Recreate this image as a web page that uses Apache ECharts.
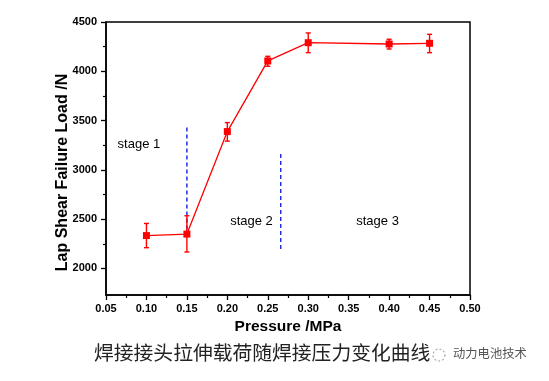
<!DOCTYPE html>
<html>
<head>
<meta charset="utf-8">
<script src="https://cdn.jsdelivr.net/npm/echarts@6/dist/echarts.min.js"></script>
<style>
html,body{margin:0;padding:0;background:#fff;}
#c{width:549px;height:381px;}
</style>
</head>
<body>
<div id="c"></div>
<script>
// ---- data ----
const pressure = [0.10, 0.15, 0.20, 0.25, 0.30, 0.40, 0.45];
const load = [2333, 2348, 3388, 4105, 4290, 4277, 4284];
const loadErrTop = [2456, 2534, 3479, 4152, 4389, 4325, 4375];
const loadErrBottom = [2210, 2166, 3291, 4051, 4189, 4226, 4189];
const yTickLabels = [2000, 2500, 3000, 3500, 4000, 4500];
const yMinorTicks = [2250, 2750, 3250, 3750, 4250];
const stageLineX = [0.15, 0.266];
const stageLineTop = [3430, 3160];
const stageLineBottom = [2350, 2180];
const stageNames = ['stage 1', 'stage 2', 'stage 3'];
const stageX = [0.0907, 0.2299, 0.3857];
const stageY = [3253, 2476, 2476];
const caption = '焊接接头拉伸载荷随焊接压力变化曲线';
const watermark = '动力电池技术';

const chart = echarts.init(document.getElementById('c'), null, {renderer: 'canvas'});
const FONT = '"Liberation Sans", Arial, sans-serif';

const errData = pressure.map((x, i) => [x, loadErrBottom[i], loadErrTop[i]]);

const stageLineSeries = stageLineX.map((x, i) => ({
  type: 'line',
  data: [[x, stageLineTop[i]], [x, stageLineBottom[i]]],
  symbol: 'none',
  silent: true,
  z: 1,
  lineStyle: {color: '#1f2fe8', width: 1.5, type: [4, 3]}
}));

const option = {
  backgroundColor: '#fff',
  animation: false,
  grid: {left: 106, right: 79, top: 22, bottom: 86, show: true, borderColor: '#000', borderWidth: 1.5, backgroundColor: 'transparent'},
  xAxis: {
    type: 'value', min: 0.05, max: 0.5, interval: 0.05,
    name: 'Pressure /MPa', nameLocation: 'middle', nameGap: 20,
    nameTextStyle: {fontFamily: FONT, fontWeight: 'bold', fontSize: 15.5, color: '#000'},
    axisLine: {show: true, lineStyle: {color: '#000', width: 1.5}},
    axisTick: {show: true, inside: false, length: 5, lineStyle: {color: '#000', width: 1.3}},
    minorTick: {show: true, splitNumber: 2, length: 3, lineStyle: {color: '#000', width: 1.2}},
    axisLabel: {margin: 8, fontFamily: FONT, fontWeight: 'bold', fontSize: 11, color: '#000',
      formatter: v => v.toFixed(2)},
    splitLine: {show: false}
  },
  yAxis: [{
    type: 'value', min: 1730, max: 4500,
    name: 'Lap Shear Failure Load /N', nameLocation: 'middle', nameGap: 35,
    nameMoveOverlap: false,
    nameTextStyle: {fontFamily: FONT, fontWeight: 'bold', fontSize: 16, color: '#000', padding: [0, 28, 0, 0]},
    axisLine: {show: true, lineStyle: {color: '#000', width: 1.5}},
    axisTick: {show: true, inside: false, length: 5, customValues: yTickLabels, lineStyle: {color: '#000', width: 1.3}},
    axisLabel: {margin: 9, customValues: yTickLabels, fontFamily: FONT, fontWeight: 'bold', fontSize: 11, color: '#000',
      formatter: v => String(v)},
    splitLine: {show: false}
  }, {
    type: 'value', min: 1730, max: 4500, position: 'left',
    axisLine: {show: false},
    axisTick: {show: true, inside: false, length: 3, customValues: yMinorTicks, lineStyle: {color: '#000', width: 1.2}},
    axisLabel: {show: false},
    splitLine: {show: false}
  }],
  series: [
    ...stageLineSeries,
    {
      type: 'line',
      data: pressure.map((x, i) => [x, load[i]]),
      symbol: 'rect', symbolSize: 7,
      itemStyle: {color: '#ff0000'},
      lineStyle: {color: '#ff0000', width: 1.3},
      z: 3
    },
    {
      type: 'custom',
      data: errData,
      z: 2,
      renderItem: function (params, api) {
        const x = api.value(0);
        const pLo = api.coord([x, api.value(1)]);
        const pHi = api.coord([x, api.value(2)]);
        const w = 2.5;
        const st = {stroke: '#ff0000', lineWidth: 1.4};
        return {type: 'group', children: [
          {type: 'line', shape: {x1: pHi[0], y1: pHi[1], x2: pLo[0], y2: pLo[1]}, style: st},
          {type: 'line', shape: {x1: pHi[0] - w, y1: pHi[1], x2: pHi[0] + w, y2: pHi[1]}, style: st},
          {type: 'line', shape: {x1: pLo[0] - w, y1: pLo[1], x2: pLo[0] + w, y2: pLo[1]}, style: st}
        ]};
      }
    },
    {
      type: 'scatter',
      data: stageNames.map((n, i) => ({name: n, value: [stageX[i], stageY[i]]})),
      symbolSize: 0,
      silent: true,
      itemStyle: {opacity: 1},
      label: {show: true, position: 'inside', formatter: p => p.name,
        fontFamily: FONT, fontSize: 13, color: '#000', opacity: 1}
    }
  ],
  graphic: [
    {type: 'text', left: 94, top: 343, style: {text: caption, fontFamily: '"Noto Sans CJK SC", sans-serif', fontSize: 19.8, fill: '#222'}},
    {type: 'circle', shape: {cx: 439, cy: 355, r: 6}, style: {fill: 'none', stroke: '#aaa', lineWidth: 1.2, lineDash: [2, 2]}},
    {type: 'text', left: 453, top: 347, style: {text: watermark, fontFamily: '"Noto Sans CJK SC", sans-serif', fontSize: 12.3, fill: '#555'}}
  ]
};
chart.setOption(option);
</script>
</body>
</html>
